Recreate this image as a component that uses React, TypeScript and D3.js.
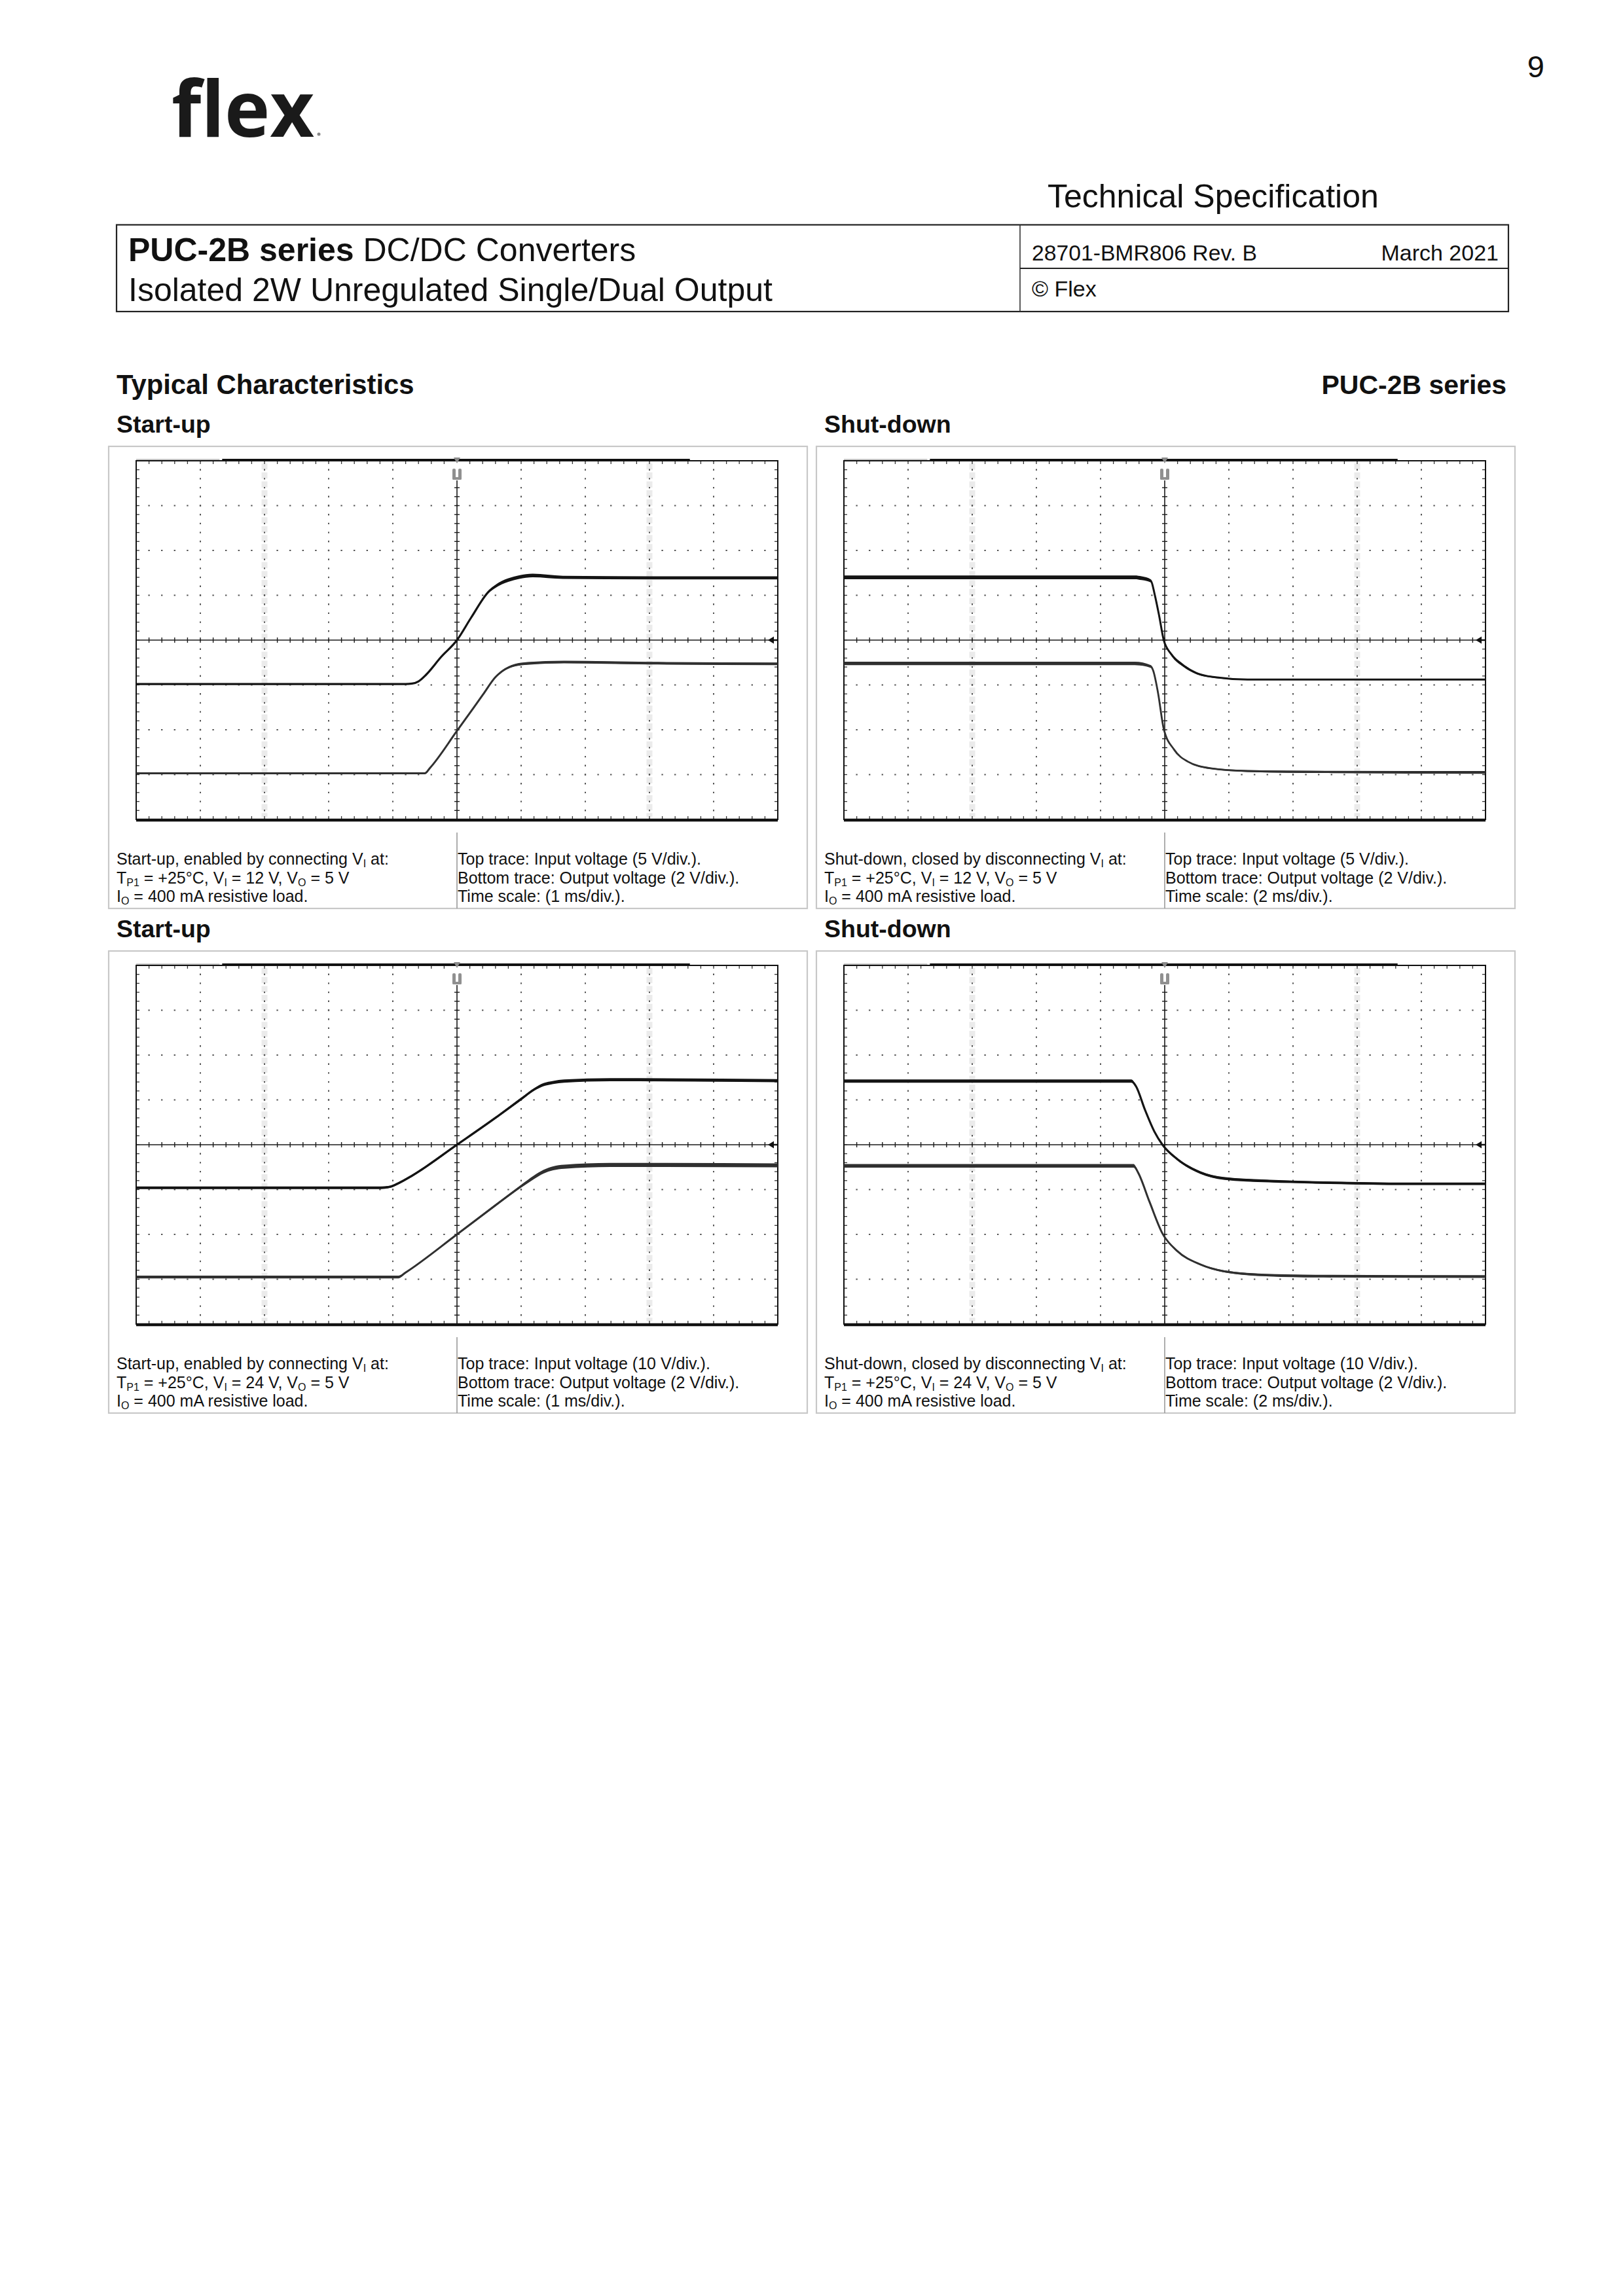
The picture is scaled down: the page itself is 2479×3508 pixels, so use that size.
import React from 'react';
import * as d3 from 'd3';

// ---------- Start-up, VI = 12 V (time in ms, volts) ----------
const startup12InTime = [-5, -0.8, -0.7, -0.6, -0.48, -0.25, 0, 0.22, 0.5, 0.6, 0.7, 0.8, 0.97, 1.18, 1.65, 3, 5];
const startup12InVolt = [0.1, 0.1, 0.15, 0.4, 1.15, 3.1, 5.0, 7.5, 10.45, 11.0, 11.42, 11.7, 12.03, 12.2, 12.0, 11.95, 11.95];
const startup12InRipple = [0.1, 0.1, 0.1, 0.12, 0.15, 0.2, 0.22, 0.25, 0.3, 0.35, 0.38, 0.4, 0.4, 0.4, 0.35, 0.35, 0.35];
const startup12OutTime = [-5, -0.5, -0.42, 0, 0.4, 0.6, 0.75, 0.9, 1.1, 1.67, 3, 5];
const startup12OutVolt = [0.06, 0.06, 0.3, 1.95, 3.55, 4.35, 4.7, 4.88, 4.96, 5.02, 4.97, 4.94];
const startup12OutRipple = [0.08, 0.08, 0.06, 0.05, 0.05, 0.07, 0.09, 0.11, 0.12, 0.12, 0.12, 0.12];

// ---------- Shut-down, VI = 12 V ----------
const shutdown12InTime = [-10, -0.93, -0.72, -0.43, -0.31, -0.17, -0.03, 0.21, 0.57, 1.0, 1.58, 2.58, 5, 10];
const shutdown12InVolt = [12.0, 12.0, 11.9, 11.6, 10.05, 7.65, 5.0, 3.4, 2.2, 1.3, 0.85, 0.6, 0.6, 0.6];
const shutdown12InRipple = [0.42, 0.42, 0.42, 0.35, 0.15, 0.1, 0.12, 0.3, 0.3, 0.22, 0.15, 0.1, 0.1, 0.1];
const shutdown12OutTime = [-10, -0.93, -0.43, -0.36, -0.21, -0.03, 0.29, 0.72, 1.43, 2.58, 5, 10];
const shutdown12OutVolt = [4.96, 4.96, 4.82, 4.64, 3.66, 2.04, 1.12, 0.58, 0.28, 0.16, 0.12, 0.1];
const shutdown12OutRipple = [0.16, 0.16, 0.12, 0.08, 0.04, 0.03, 0.03, 0.05, 0.07, 0.08, 0.1, 0.12];

// ---------- Start-up, VI = 24 V ----------
const startup24InTime = [-5, -1.19, -1.05, -0.9, -0.7, 0, 0.6, 1.0, 1.2, 1.35, 1.5, 1.67, 2.39, 5];
const startup24InVolt = [0.4, 0.4, 0.6, 1.5, 3.1, 10.0, 16.0, 20.2, 22.3, 23.4, 23.9, 24.2, 24.5, 24.3];
const startup24InRipple = [0.6, 0.6, 0.5, 0.5, 0.5, 0.5, 0.5, 0.6, 0.6, 0.7, 0.7, 0.7, 0.7, 0.7];
const startup24OutTime = [-5, -0.91, -0.8, 0, 0.6, 1.0, 1.2, 1.35, 1.5, 1.67, 2.39, 5];
const startup24OutVolt = [0.1, 0.1, 0.3, 2.0, 3.3, 4.15, 4.55, 4.8, 4.95, 5.02, 5.1, 5.08];
const startup24OutRipple = [0.12, 0.12, 0.08, 0.08, 0.1, 0.13, 0.16, 0.17, 0.18, 0.18, 0.18, 0.18];

// ---------- Shut-down, VI = 24 V ----------
const shutdown24InTime = [-10, -1.04, -0.9, -0.61, -0.32, -0.07, 0.39, 1.11, 1.83, 3.26, 4.7, 7.56, 10];
const shutdown24InVolt = [24.2, 24.2, 23.1, 17.7, 12.9, 10.0, 6.8, 3.8, 2.5, 1.9, 1.6, 1.3, 1.3];
const shutdown24InRipple = [0.7, 0.7, 0.5, 0.4, 0.4, 0.4, 0.5, 0.6, 0.6, 0.6, 0.55, 0.55, 0.55];
const shutdown24OutTime = [-10, -0.97, -0.83, -0.47, -0.07, 0.39, 1.11, 1.83, 3.26, 4.7, 10];
const shutdown24OutVolt = [5.06, 5.06, 4.76, 3.44, 2.04, 1.26, 0.66, 0.36, 0.18, 0.14, 0.12];
const shutdown24OutRipple = [0.16, 0.16, 0.1, 0.05, 0.05, 0.05, 0.07, 0.09, 0.11, 0.12, 0.12];

// ---------- texts ----------
const sectionTitles = ['Start-up', 'Shut-down', 'Start-up', 'Shut-down'];
const captionFirstLines = [
  'Start-up, enabled by connecting V',
  'Shut-down, closed by disconnecting V',
  'Start-up, enabled by connecting V',
  'Shut-down, closed by disconnecting V',
];
const inputVoltages = ['12', '12', '24', '24'];
const inputScales = ['5', '5', '10', '10'];
const timeScales = ['1', '2', '1', '2'];
const inputVoltsPerDiv = [5, 5, 10, 10];
const timePerDiv = [1, 2, 1, 2];
// grid columns (in divisions) that show a faint grey halo on the scope screen shots
const haloColumns = [2, 8];

type Trace = { t: number[]; v: number[]; r: number[]; vdiv: number; pos: number; color: string; w: number };

const FONT = '"Liberation Sans", Arial, Helvetica, sans-serif';

const panelXs = [166, 1247];
const panelYs = [682, 1453];
const PANEL_W = 1067;
const PANEL_H = 706;

function Scope({ px, py, tdiv, traces }: { px: number; py: number; tdiv: number; traces: Trace[] }) {
  const gx = px + 42;
  const gy = py + 22;
  const gw = 980;
  const gh = 548;
  const xd = d3.scaleLinear().domain([0, 10]).range([gx, gx + gw]);
  const yd = d3.scaleLinear().domain([-4, 4]).range([gy + gh, gy]);
  const xs = d3.scaleLinear().domain([-5 * tdiv, 5 * tdiv]).range([gx, gx + gw]);
  const stepX = gw / 50;
  const stepY = gh / 40;
  const yc = yd(0);
  const xc = xd(5);
  const minor = d3.range(1, 50);
  const minorY = d3.range(1, 40);
  const els: React.ReactNode[] = [];
  haloColumns.forEach((c) => {
    els.push(
      <line key={'halo' + c} x1={xd(c)} x2={xd(c)} y1={gy + 4} y2={gy + gh - 4} stroke="#ebebeb" strokeWidth={9}
        strokeDasharray={`${stepY * 0.7} ${stepY * 0.3}`} />
    );
  });
  [1, 2, 3, 4, 6, 7, 8, 9].forEach((i) => {
    els.push(
      <line key={'gv' + i} x1={xd(i)} x2={xd(i)} y1={gy} y2={gy + gh} stroke="#555" strokeWidth={2}
        strokeDasharray={`2.4 ${stepY - 2.4}`} strokeDashoffset={1.2} />
    );
  });
  [-3, -2, -1, 1, 2, 3].forEach((j) => {
    els.push(
      <line key={'gh' + j} x1={gx} x2={gx + gw} y1={yd(j)} y2={yd(j)} stroke="#555" strokeWidth={2}
        strokeDasharray={`2.4 ${stepX - 2.4}`} strokeDashoffset={1.2} />
    );
  });
  els.push(<line key="cx" x1={gx} x2={gx + gw} y1={yc} y2={yc} stroke="#1a1a1a" strokeWidth={1.6} />);
  els.push(<line key="cy" x1={xc} x2={xc} y1={gy} y2={gy + gh} stroke="#1a1a1a" strokeWidth={1.6} />);
  minor.forEach((k) => {
    const x = gx + k * stepX;
    els.push(<line key={'tcx' + k} x1={x} x2={x} y1={yc - 4} y2={yc + 4} stroke="#1a1a1a" strokeWidth={1.4} />);
    els.push(<line key={'ttop' + k} x1={x} x2={x} y1={gy} y2={gy + 5} stroke="#333" strokeWidth={1.3} />);
    els.push(<line key={'tbot' + k} x1={x} x2={x} y1={gy + gh - 5} y2={gy + gh} stroke="#333" strokeWidth={1.3} />);
  });
  minorY.forEach((k) => {
    const y = gy + k * stepY;
    els.push(<line key={'tcy' + k} x1={xc - 4} x2={xc + 4} y1={y} y2={y} stroke="#1a1a1a" strokeWidth={1.4} />);
    els.push(<line key={'tl' + k} x1={gx} x2={gx + 5} y1={y} y2={y} stroke="#333" strokeWidth={1.3} />);
    els.push(<line key={'tr' + k} x1={gx + gw - 5} x2={gx + gw} y1={y} y2={y} stroke="#333" strokeWidth={1.3} />);
  });
  els.push(<rect key="border" x={gx} y={gy} width={gw} height={gh} fill="none" stroke="#111" strokeWidth={2} />);
  els.push(<line key="bottomThick" x1={gx} x2={gx + gw} y1={gy + gh + 1} y2={gy + gh + 1} stroke="#111" strokeWidth={4.5} />);
  els.push(<line key="topBar" x1={xd(1.34)} x2={xd(8.63)} y1={gy - 1.5} y2={gy - 1.5} stroke="#111" strokeWidth={3} />);
  els.push(<line key="topBarGrey" x1={gx} x2={xd(1.3)} y1={gy - 2} y2={gy - 2} stroke="#c8c8c8" strokeWidth={2} />);
  els.push(<rect key="trigBg" x={xc - 9} y={gy + 2} width={18} height={28} fill="#fff" />);
  els.push(<path key="trigTri" d={`M${xc - 5},${gy - 5} L${xc + 5},${gy - 5} L${xc},${gy + 4} Z`} fill="#8a8a8a" />);
  els.push(<rect key="trigL" x={xc - 7} y={gy + 12} width={5} height={17} rx={2} fill="#909090" />);
  els.push(<rect key="trigR" x={xc + 2} y={gy + 12} width={5} height={17} rx={2} fill="#909090" />);
  els.push(<rect key="trigB" x={xc - 7} y={gy + 25} width={14} height={4} rx={2} fill="#909090" />);
  els.push(<path key="arrow" d={`M${gx + gw - 15},${yc} L${gx + gw - 6},${yc - 5.5} L${gx + gw - 6},${yc + 5.5} Z`} fill="#111" />);
  els.push(<line key="arrowStem" x1={gx + gw - 8} x2={gx + gw - 1} y1={yc} y2={yc} stroke="#111" strokeWidth={2.5} />);

  traces.forEach((tr, ti) => {
    const vy = (v: number) => yd(v / tr.vdiv + tr.pos);
    const pts = tr.t.map((t, i) => ({ t, v: tr.v[i], r: tr.r[i] }));
    const area = d3.area<{ t: number; v: number; r: number }>()
      .x((d) => xs(d.t))
      .y0((d) => vy(d.v - d.r / 2))
      .y1((d) => vy(d.v + d.r / 2))
      .curve(d3.curveMonotoneX);
    const line = d3.line<{ t: number; v: number; r: number }>()
      .x((d) => xs(d.t))
      .y((d) => vy(d.v))
      .curve(d3.curveMonotoneX);
    els.push(<path key={'ta' + ti} d={area(pts) || ''} fill={tr.color} stroke="none" />);
    els.push(<path key={'tl' + ti} d={line(pts) || ''} fill="none" stroke={tr.color} strokeWidth={tr.w} strokeLinejoin="round" />);
  });

  return <g>{els}</g>;
}

function Caption({ px, py, idx }: { px: number; py: number; idx: number }) {
  const x1 = px + 12;
  const x2 = px + 533;
  const b = py + 639;
  const ls = 28.5;
  const fs = 25;
  const sub = 16;
  return (
    <g fontFamily={FONT} fontSize={fs} fill="#111">
      <text x={x1} y={b}>
        {captionFirstLines[idx]}
        <tspan fontSize={sub} dy={4}>I</tspan>
        <tspan dy={-4}>{' at:'}</tspan>
      </text>
      <text x={x1} y={b + ls}>
        {'T'}
        <tspan fontSize={sub} dy={4}>P1</tspan>
        <tspan dy={-4}>{' = +25°C, V'}</tspan>
        <tspan fontSize={sub} dy={4}>I</tspan>
        <tspan dy={-4}>{` = ${inputVoltages[idx]} V, V`}</tspan>
        <tspan fontSize={sub} dy={4}>O</tspan>
        <tspan dy={-4}>{' = 5 V'}</tspan>
      </text>
      <text x={x1} y={b + 2 * ls}>
        {'I'}
        <tspan fontSize={sub} dy={4}>O</tspan>
        <tspan dy={-4}>{' = 400 mA resistive load.'}</tspan>
      </text>
      <text x={x2} y={b}>{`Top trace: Input voltage (${inputScales[idx]} V/div.).`}</text>
      <text x={x2} y={b + ls}>{'Bottom trace: Output voltage (2 V/div.).'}</text>
      <text x={x2} y={b + 2 * ls}>{`Time scale: (${timeScales[idx]} ms/div.).`}</text>
    </g>
  );
}

export default function App() {
  const inColor = '#141414';
  const outColor = '#303030';
  const traceSets: Trace[][] = [
    [
      { t: startup12InTime, v: startup12InVolt, r: startup12InRipple, vdiv: inputVoltsPerDiv[0], pos: -1, color: inColor, w: 3.2 },
      { t: startup12OutTime, v: startup12OutVolt, r: startup12OutRipple, vdiv: 2, pos: -3, color: outColor, w: 3 },
    ],
    [
      { t: shutdown12InTime, v: shutdown12InVolt, r: shutdown12InRipple, vdiv: inputVoltsPerDiv[1], pos: -1, color: inColor, w: 3 },
      { t: shutdown12OutTime, v: shutdown12OutVolt, r: shutdown12OutRipple, vdiv: 2, pos: -3, color: outColor, w: 2.8 },
    ],
    [
      { t: startup24InTime, v: startup24InVolt, r: startup24InRipple, vdiv: inputVoltsPerDiv[2], pos: -1, color: inColor, w: 3.2 },
      { t: startup24OutTime, v: startup24OutVolt, r: startup24OutRipple, vdiv: 2, pos: -3, color: outColor, w: 3 },
    ],
    [
      { t: shutdown24InTime, v: shutdown24InVolt, r: shutdown24InRipple, vdiv: inputVoltsPerDiv[3], pos: -1, color: inColor, w: 3.2 },
      { t: shutdown24OutTime, v: shutdown24OutVolt, r: shutdown24OutRipple, vdiv: 2, pos: -3, color: outColor, w: 3 },
    ],
  ];

  return (
    <div style={{ position: 'absolute', left: 0, top: 0, background: '#fff' }}>
      <svg width={2479} height={3508} viewBox="0 0 2479 3508" xmlns="http://www.w3.org/2000/svg" style={{ display: 'block' }}>
        <rect x={0} y={0} width={2479} height={3508} fill="#fff" />
        <text x={2359} y={118} textAnchor="end" fontFamily={FONT} fontSize={47} fill="#111">9</text>
        <text x={262} y={209} fontFamily='"Open Sans", "DejaVu Sans", sans-serif' fontWeight={700} fontSize={118} fill="#1a1a1a" textLength={218} lengthAdjust="spacingAndGlyphs">flex</text>
        <circle cx={487} cy={205} r={2.5} fill="#888" />
        <text x={1600} y={317} fontFamily={FONT} fontSize={50} fill="#111">Technical Specification</text>
        <rect x={178} y={343.5} width={2126} height={132.5} fill="none" stroke="#222" strokeWidth={2.2} />
        <line x1={1558} x2={1558} y1={343.5} y2={476} stroke="#333" strokeWidth={1.6} />
        <line x1={1558} x2={2304} y1={410} y2={410} stroke="#222" strokeWidth={2} />
        <text x={196} y={399} fontFamily={FONT} fontSize={50} fill="#111">
          <tspan fontWeight="bold">PUC-2B series</tspan>
          {' DC/DC Converters'}
        </text>
        <text x={196} y={459.6} fontFamily={FONT} fontSize={50} fill="#111">Isolated 2W Unregulated Single/Dual Output</text>
        <text x={1576} y={398} fontFamily={FONT} fontSize={33.7} fill="#111">28701-BMR806 Rev. B</text>
        <text x={2289} y={398} textAnchor="end" fontFamily={FONT} fontSize={34} fill="#111">March 2021</text>
        <text x={1576} y={453} fontFamily={FONT} fontSize={34} fill="#111">© Flex</text>
        <text x={178} y={601.6} fontFamily={FONT} fontWeight="bold" fontSize={41.8} fill="#111">Typical Characteristics</text>
        <text x={2301} y={602} textAnchor="end" fontFamily={FONT} fontWeight="bold" fontSize={41} fill="#111">PUC-2B series</text>
        {[0, 1, 2, 3].map((i) => {
          const px = panelXs[i % 2];
          const py = panelYs[Math.floor(i / 2)];
          return (
            <g key={'panel' + i}>
              <text x={px + 12} y={py - 21.5} fontFamily={FONT} fontWeight="bold" fontSize={37.5} fill="#111">{sectionTitles[i]}</text>
              <rect x={px} y={py} width={PANEL_W} height={PANEL_H} fill="none" stroke="#c8c8c8" strokeWidth={2.2} />
              <line x1={px + 532} x2={px + 532} y1={py + 590} y2={py + PANEL_H} stroke="#9a9a9a" strokeWidth={1.6} />
              <Scope px={px} py={py} tdiv={timePerDiv[i]} traces={traceSets[i]} />
              <Caption px={px} py={py} idx={i} />
            </g>
          );
        })}
      </svg>
    </div>
  );
}
